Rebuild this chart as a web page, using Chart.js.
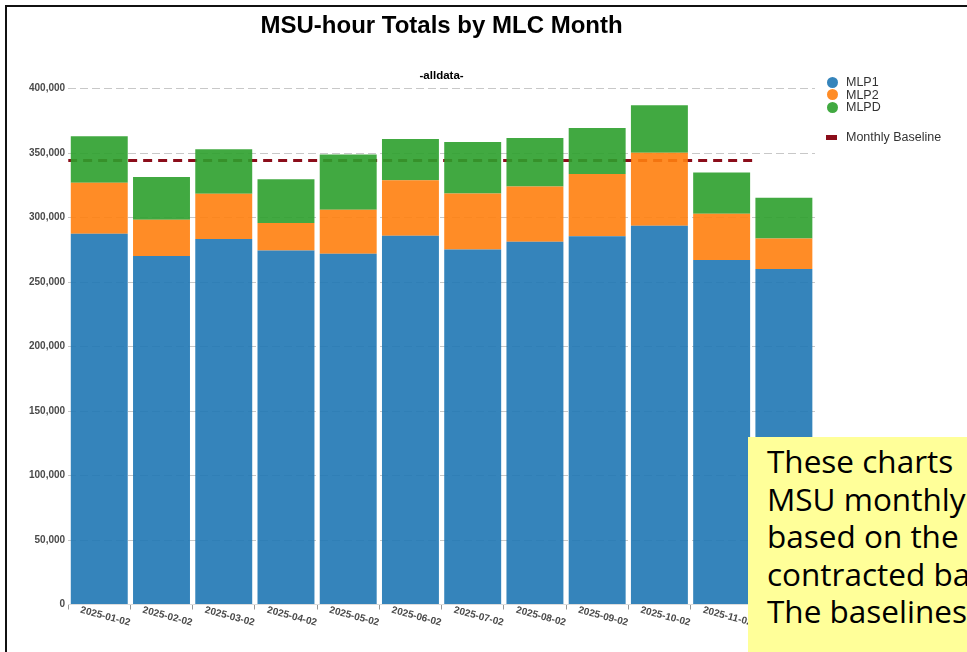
<!DOCTYPE html>
<html>
<head>
<meta charset="utf-8">
<title>MSU-hour Totals by MLC Month</title>
<script src="https://cdn.jsdelivr.net/npm/chart.js@4.4.1/dist/chart.umd.min.js"></script>
<style>
  html, body { margin: 0; padding: 0; background: #fff; }
  body { width: 967px; height: 652px; overflow: hidden; position: relative; font-family: "Liberation Sans", Arial, sans-serif; }
  #frame { position: absolute; left: 5px; top: 5px; width: 980px; height: 680px; border-left: 2px solid #111; border-top: 2px solid #111; }
  #wrap { position: absolute; left: 0; top: 0; width: 967px; height: 652px; }
  #legend { position: absolute; left: 826px; top: 76px; font-size: 12.5px; color: #333; }
  #legend .row { position: relative; height: 12.5px; line-height: 12.5px; padding-left: 20px; white-space: nowrap; }
  #legend .dot { position: absolute; left: 1px; top: 0.5px; width: 11px; height: 11px; border-radius: 50%; }
  #legend .bar { position: absolute; left: 0; top: 4px; width: 11px; height: 5px; }
  #legend .gap { height: 17px; }
  #note { position: absolute; left: 748px; top: 437px; width: 300px; height: 240px; background: #ffff99;
          box-sizing: border-box; padding: 5px 0 0 19px; font-family: "Open Sans", Lato, sans-serif;
          font-size: 31.5px; line-height: 37.5px; color: #000; white-space: nowrap; }
</style>
</head>
<body>
<div id="wrap"><canvas id="msuChart" width="967" height="652"></canvas></div>
<div id="legend"></div>
<div id="note">These charts<br>MSU monthly<br>based on the<br>contracted baseline<br>The baselines</div>
<div id="frame"></div>
<script>
// months on the x axis
const months = ["2025-01-02", "2025-02-02", "2025-03-02", "2025-04-02", "2025-05-02", "2025-06-02",
                "2025-07-02", "2025-08-02", "2025-09-02", "2025-10-02", "2025-11-02", "2025-12-02"];

// MSU-hours per machine class
const mlp1 = [287400, 270300, 283300, 274500, 271900, 285900, 275200, 281200, 285600, 293600, 267200, 260200];
const mlp2 = [39600, 28000, 35200, 21200, 34100, 43100, 43500, 42900, 48100, 56700, 35800, 23600];
const mlpd = [36000, 33100, 34400, 34100, 43000, 31900, 39900, 37600, 35700, 36700, 32000, 31600];

// contracted monthly baseline, covers the first 11 months
const baselineValue = 344300;
const baselineMonths = 11;

const yTicks = [0, 50000, 100000, 150000, 200000, 250000, 300000, 350000, 400000];

const seriesNames = ["MLP1", "MLP2", "MLPD"];
const seriesColors = ["rgba(31,119,180,0.9)", "rgba(255,127,14,0.9)", "rgba(44,160,44,0.9)"];
const baselineColor = "#8b0d1a";

const FONT = '"Liberation Sans", Arial, sans-serif';

// legend built by hand (two groups, like the original)
const legendEl = document.getElementById("legend");
seriesNames.forEach((name, i) => {
  const row = document.createElement("div");
  row.className = "row";
  row.innerHTML = `<span class="dot" style="background:${seriesColors[i]}"></span>${name}`;
  legendEl.appendChild(row);
});
legendEl.insertAdjacentHTML("beforeend",
  `<div class="gap"></div><div class="row"><span class="bar" style="background:${baselineColor}"></span>Monthly Baseline</div>`);

// x labels slanted down to the right
const slantedLabels = {
  id: "slantedLabels",
  afterDraw(chart) {
    const xs = chart.scales.x;
    const ctx = chart.ctx;
    ctx.save();
    ctx.font = `bold 10px ${FONT}`;
    ctx.fillStyle = "#4a4a4a";
    ctx.textAlign = "center";
    ctx.textBaseline = "middle";
    xs.ticks.forEach((t, i) => {
      const x = xs.getPixelForTick(i);
      ctx.save();
      ctx.translate(x + 6, xs.top + 12);
      ctx.rotate(15 * Math.PI / 180);
      ctx.fillText(xs.getLabelForValue(t.value), 0, 0);
      ctx.restore();
    });
    ctx.restore();
  }
};

const barData = [mlp1, mlp2, mlpd];

new Chart(document.getElementById("msuChart"), {
  type: "bar",
  data: {
    labels: months,
    datasets: [
      ...barData.map((vals, i) => ({
        label: seriesNames[i],
        data: vals,
        backgroundColor: seriesColors[i],
        borderWidth: 0,
        grouped: false,
        barPercentage: 0.915,
        categoryPercentage: 1.0,
        order: 1
      })),
      {
        type: "line",
        label: "Monthly Baseline",
        data: [{ x: -0.5, y: baselineValue }, { x: baselineMonths - 0.5, y: baselineValue }],
        xAxisID: "xBase",
        stack: "baseline",
        borderColor: baselineColor,
        borderWidth: 3,
        borderDash: [9, 6],
        pointRadius: 0,
        fill: false,
        order: 2
      }
    ]
  },
  options: {
    responsive: false,
    animation: false,
    layout: { padding: { left: 26, right: 152, top: 12, bottom: 24.5 } },
    plugins: {
      legend: { display: false },
      tooltip: { enabled: false },
      title: {
        display: true,
        text: "MSU-hour Totals by MLC Month",
        fullSize: false,
        color: "#000",
        font: { family: FONT, size: 24, weight: "bold" },
        padding: { top: 0, bottom: 28 }
      },
      subtitle: {
        display: true,
        text: "-alldata-",
        fullSize: false,
        color: "#000",
        font: { family: FONT, size: 11.5, weight: "bold" },
        padding: { top: 0, bottom: 6 }
      }
    },
    scales: {
      x: {
        stacked: true,
        offset: true,
        grid: { display: true, drawOnChartArea: false, drawTicks: true, tickLength: 5, color: "#999" },
        border: { display: true, color: "#ddd" },
        ticks: { color: "rgba(0,0,0,0)", maxRotation: 0, autoSkip: false, font: { family: FONT, size: 10, weight: "bold" } }
      },
      xBase: {
        type: "linear",
        display: false,
        offset: false,
        min: -0.5,
        max: months.length - 0.5
      },
      y: {
        stacked: true,
        min: 0,
        max: 400000,
        afterBuildTicks: axis => { axis.ticks = yTicks.map(v => ({ value: v })); },
        grid: { color: "#c8c8c8", drawTicks: false, lineWidth: 1 },
        border: { display: false, dash: [8, 4] },
        ticks: {
          padding: 3,
          color: "#4a4a4a",
          font: { family: FONT, size: 10, weight: "bold" },
          callback: v => Number(v).toLocaleString("en-US")
        }
      }
    }
  },
  plugins: [slantedLabels]
});
</script>
</body>
</html>
